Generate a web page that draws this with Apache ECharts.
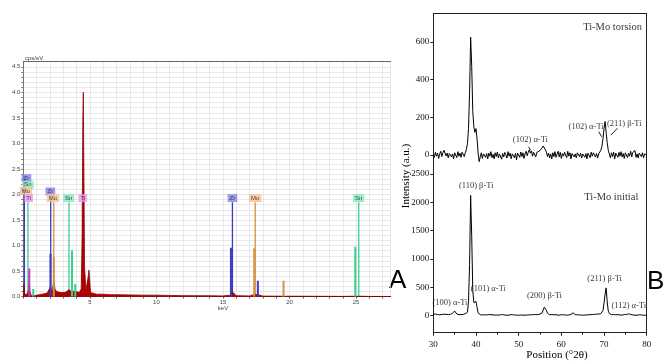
<!DOCTYPE html>
<html>
<head>
<meta charset="utf-8">
<script src="https://cdn.jsdelivr.net/npm/echarts@6/dist/echarts.min.js"></script>
<style>
  html, body { margin: 0; padding: 0; background: #fff; }
  #chart { width: 667px; height: 362px; }
</style>
</head>
<body>
<div id="chart"></div>
<script>
// ---- Panel A: EDS spectrum (keV, cps/eV) ----
const edsSpectrum = [
  [0, 0], [0.05, 0.25], [0.1, 0.05], [0.2, 0.02], [0.3, 0.05], [0.4, 0.15], [0.45, 0.3], [0.5, 0.1],
  [0.6, 0.02], [0.8, 0.02], [1.0, 0.03], [1.2, 0.04], [1.4, 0.05], [1.6, 0.06], [1.8, 0.07],
  [1.95, 0.1], [2.04, 0.2], [2.12, 0.1], [2.2, 0.15], [2.29, 0.32], [2.38, 0.15], [2.5, 0.1],
  [2.8, 0.08], [3.0, 0.08], [3.2, 0.09], [3.35, 0.1], [3.44, 0.14], [3.52, 0.1], [3.6, 0.12],
  [3.66, 0.15], [3.75, 0.1], [3.9, 0.12], [4.0, 0.1], [4.2, 0.08], [4.35, 0.15], [4.42, 1.2],
  [4.47, 3.45], [4.51, 4.0], [4.55, 2.5], [4.6, 0.6], [4.7, 0.12], [4.8, 0.15], [4.88, 0.4],
  [4.93, 0.52], [4.98, 0.35], [5.05, 0.08], [5.2, 0.06], [5.5, 0.05], [6, 0.05], [6.5, 0.04],
  [7, 0.04], [8, 0.035], [9, 0.03], [10, 0.03], [11, 0.025], [12, 0.02], [13, 0.02], [14, 0.018],
  [15, 0.015], [15.6, 0.03], [15.75, 0.08], [16, 0.02], [17, 0.015], [17.45, 0.05], [17.6, 0.015],
  [18, 0.012], [19, 0.01], [20, 0.01], [22, 0.008], [24, 0.006], [25, 0.01], [26, 0.005], [27.6, 0.004]
];

// element peak sticks
const edsPeakE  = [0.45, 0.75, 2.04, 2.29, 3.66, 3.9, 15.6, 17.35, 17.62, 19.55, 24.94];
const edsPeakH  = [0.55, 0.15, 0.84, 0.77, 0.91, 0.25, 0.96, 0.95, 0.31, 0.31, 0.98];
const edsPeakEl = ['Ti', 'Sn', 'Zr', 'Mo', 'Sn', 'Sn', 'Zr', 'Mo', 'Zr', 'Mo', 'Sn'];

// element marker lines
const edsMarkE  = [0.08, 0.35, 2.06, 2.29, 3.43, 4.51, 15.71, 17.42, 25.2];
const edsMarkH  = [2.35, 1.85, 2.0, 1.85, 1.85, 1.85, 1.85, 1.85, 1.85];
const edsMarkEl = ['Zr', 'Sn', 'Zr', 'Mo', 'Sn', 'Ti', 'Zr', 'Mo', 'Sn'];

// element tags
const edsTagE  = [0.24, 0.35, 0.2, 0.4, 2.03, 2.23, 3.41, 4.47, 15.71, 17.42, 25.19];
const edsTagV  = [2.32, 2.19, 2.07, 1.93, 2.06, 1.93, 1.93, 1.93, 1.93, 1.93, 1.93];
const edsTagEl = ['Zr', 'Sn', 'Mo', 'Ti', 'Zr', 'Mo', 'Sn', 'Ti', 'Zr', 'Mo', 'Sn'];

// ---- Panel B: XRD patterns, 30..80 deg 2theta every 0.25 ----
const xrdStart = 30;
const xrdStep = 0.25;
const xrdTorsion = [
  8, -12, 15, -6,   10, -18, 5, 20,   -8, 12, 25, 18,   -5, 10, -15, 8,   14, -10, 6, -20,
  12, 2, -14, 18,   -6, 10, -12, 15,  20, -8, 12, 30,   60, 140, 330, 625, 470, 230, 150, 120,
  140, 85, 10, -35, -10, 12, -18, 6,  15, -12, 8, -20,  10, -6, 18, -14,  4, -20, 12, -8,
  16, -15, 6, 10,   -22, 8, -10, 14,  2, -16, 18, -6,   10, -20, 6, 12,   -14, 8, -25, 10,
  4, -12, 16, -8,   12, -18, 6, 20,   -4, 15, 28, 10,   22, -6, 15, 8,    -10, 14, 5, 20,
  12, 30, 38, 48,   42, 28, 15, -8,   10, -15, 6, -20,  12, -8, 18, -12,  5, 20, -10, 14,
  -18, 8, -6, 15,   10, -14, 20, -6,  12, -20, 8, 16,   -10, 6, -15, 12,  18, -8, 10, -16,
  6, 14, -12, 8,    -20, 10, 4, -14,  15, -6, 12, 20,   -10, 8, -16, 6,   14, 25, 45, 85,
  140, 178, 120, 65, 25, 5, -15, 12,  -8, 16, -20, 10,  6, -12, 14, -6,   18, -10, 8, -18,
  12, 4, -14, 10,   -6, 20, -10, 15,  8, 24, -12, 6,    -16, 10, 14, -8,  12, -14, 6, 10,
  2
];
const xrdInitial = [
  25, 18, 30, 22,   20, 28, 15, 24,   22, 16, 26, 18,   24, 14, 20, 28,   22, 30, 45, 75,
  82, 55, 30, 22,   18, 26, 20, 30,   22, 28, 35, 40,   60, 250, 900, 2120, 1400, 450, 230, 210,
  250, 150, 50, 25, 18, 24, 12, 20,   16, 22, 14, 18,   20, 12, 18, 10,   15, 20, 8, 16,
  12, 18, 10, 14,   20, 8, 15, 12,    10, 18, 6, 14,    16, 10, 18, 8,    12, 20, 10, 14,
  8, 16, 12, 18,    10, 14, 8, 16,    12, 18, 14, 10,   16, 12, 20, 15,   18, 22, 20, 26,
  28, 35, 50, 80,   150, 172, 95, 45, 25, 18, 14, 20,   12, 16, 10, 18,   14, 8, 16, 12,
  10, 18, 12, 14,   16, 10, 14, 12,   18, 24, 35, 50,   32, 18, 12, 15,   10, 16, 12, 8,
  14, 10, 18, 12,   8, 15, 12, 18,    14, 20, 16, 24,   20, 26, 22, 30,   28, 35, 50, 90,
  220, 380, 490, 240, 80, 40, 25, 18, 14, 20, 12, 16,   10, 18, 14, 12,   16, 10, 14, 20,
  15, 22, 28, 32,   30, 22, 15, 12,   18, 10, 14, 8,    12, 16, 6, 14,    10, 8, 14, 6,
  10
];
const torsionTicks = [0, 200, 400, 600];
const initialTicks = [0, 500, 1000, 1500, 2000, 2500];

// peak notes (anchored in data units)
const torsionNoteX = [72.0, 52.75, 65.8, 74.75];
const torsionNoteY = [680, 83, 150, 168];
const torsionNoteText = ['Ti-Mo torsion', '(102) α-Ti', '(102) α-Ti', '(211) β-Ti'];
const torsionArrows = [[52.3, 44, 52.8, 26], [68.75, 124, 69.45, 97], [73.15, 142, 71.6, 106]];

const initialNoteX = [40.05, 71.7, 42.9, 33.9, 56.05, 70.15, 75.8];
const initialNoteY = [2283, 2083, 473, 225, 349, 655, 177];
const initialNoteText = ['(110) β-Ti', 'Ti-Mo initial', '(101) α-Ti', '(100) α-Ti', '(200) β-Ti', '(211) β-Ti', '(112) α-Ti'];

const elColors = {
  Zr: { line: '#3a3ac6', tag: '#8484ee' },
  Mo: { line: '#d4923c', tag: '#f4c28e' },
  Sn: { line: '#3ccf90', tag: '#86e8bc' },
  Ti: { line: '#c03cc0', tag: '#f294f0' }
};

const serif = '"Liberation Serif", "DejaVu Serif", serif';
const sans = '"Liberation Sans", "DejaVu Sans", sans-serif';
const clear = 'rgba(0,0,0,0)';

const chart = echarts.init(document.getElementById('chart'), null, { renderer: 'canvas' });

const stickRender = (els, width) => (params, api) => {
  const p0 = api.coord([api.value(0), 0]);
  const p1 = api.coord([api.value(0), api.value(1)]);
  return {
    type: 'line',
    shape: { x1: p0[0], y1: p0[1], x2: p1[0], y2: p1[1] },
    style: { stroke: elColors[els[params.dataIndex]].line, lineWidth: width }
  };
};

const xrdPairs = arr => arr.map((v, i) => [xrdStart + i * xrdStep, v]);

const frameAxis = (gridIndex, position, min, max) => ({
  gridIndex, type: 'value', position, min, max,
  axisLine: { show: true, onZero: false, lineStyle: { color: '#222', width: 1 } },
  axisTick: { show: false }, axisLabel: { show: false }, splitLine: { show: false }
});

const xrdYAxis = (gridIndex, min, max, ticks) => ({
  gridIndex, type: 'value', min, max,
  axisLine: { show: true, onZero: false, lineStyle: { color: '#222', width: 1 } },
  axisTick: { show: true, length: 3, customValues: ticks, lineStyle: { color: '#222' } },
  axisLabel: { fontFamily: serif, fontSize: 9, color: '#111', margin: 4, customValues: ticks, formatter: v => String(v) },
  splitLine: { show: false }
});

const noteSeries = (name, xi, yi, xs, ys, texts, bigIndex) => ({
  name, type: 'scatter', xAxisIndex: xi, yAxisIndex: yi, z: 6,
  symbolSize: 1, itemStyle: { color: clear }, silent: true,
  data: xs.map((x, i) => ({
    value: [x, ys[i]],
    label: i === bigIndex ? { fontSize: 10.5 } : {}
  })),
  label: {
    show: true, position: 'inside', fontFamily: serif, color: '#000',
    fontSize: 8.5, formatter: p => texts[p.dataIndex]
  }
});

const option = {
  animation: false,
  backgroundColor: '#fff',
  grid: [
    { left: 23.3, top: 61.7, width: 367.4, height: 235 },
    { left: 433.3, top: 13.6, width: 213.4, height: 160.3 },
    { left: 433.3, top: 173.9, width: 213.4, height: 158.8 }
  ],
  xAxis: [
    {
      gridIndex: 0, type: 'value', min: 0, max: 27.6, interval: 1,
      axisLine: { onZero: false, lineStyle: { color: '#333', width: 1 } },
      axisTick: { show: true, length: 2, lineStyle: { color: '#666' } },
      axisLabel: {
        fontFamily: sans, fontSize: 6, color: '#444', margin: 3, showMaxLabel: false,
        formatter: v => (v > 0 && v % 5 === 0 ? String(v) : '')
      },
      splitLine: { show: true, lineStyle: { color: '#dadada', width: 0.6 } }
    },
    Object.assign(frameAxis(0, 'top', 0, 27.6), { axisLine: { show: true, onZero: false, lineStyle: { color: '#666', width: 1 } } }),
    frameAxis(1, 'top', 30, 80),
    {
      gridIndex: 2, type: 'value', min: 30, max: 80, interval: 10,
      axisLine: { show: true, onZero: false, lineStyle: { color: '#222', width: 1 } },
      axisTick: { show: true, length: 3, lineStyle: { color: '#222' } },
      minorTick: { show: true, splitNumber: 2, length: 2, lineStyle: { color: '#222' } },
      axisLabel: { fontFamily: serif, fontSize: 9, color: '#111', margin: 7 },
      splitLine: { show: false }
    }
  ],
  yAxis: [
    {
      gridIndex: 0, type: 'value', min: 0, max: 4.6, interval: 0.1,
      axisLine: { show: true, onZero: false, lineStyle: { color: '#777', width: 1 } },
      axisTick: { show: true, length: 2, lineStyle: { color: '#777' } },
      axisLabel: {
        fontFamily: sans, fontSize: 6, color: '#444', margin: 3, showMaxLabel: false,
        formatter: v => (Math.round(v * 10) % 5 === 0 ? v.toFixed(1) : '')
      },
      splitLine: { show: true, lineStyle: { color: '#dadada', width: 0.6 } }
    },
    xrdYAxis(1, -100, 750, torsionTicks),
    frameAxis(1, 'right', -100, 750),
    xrdYAxis(2, -300, 2500, initialTicks),
    frameAxis(2, 'right', -300, 2500)
  ],
  series: [
    {
      name: 'markers', type: 'custom', xAxisIndex: 0, yAxisIndex: 0, z: 2, clip: true,
      data: edsMarkE.map((e, i) => [e, edsMarkH[i]]),
      renderItem: stickRender(edsMarkEl, 1.3)
    },
    {
      name: 'spectrum', type: 'line', xAxisIndex: 0, yAxisIndex: 0, z: 3,
      data: edsSpectrum, symbol: 'none',
      lineStyle: { color: '#8a0000', width: 0.8 },
      areaStyle: { color: '#b00000', opacity: 1 }
    },
    {
      name: 'peaks', type: 'custom', xAxisIndex: 0, yAxisIndex: 0, z: 4, clip: true,
      data: edsPeakE.map((e, i) => [e, edsPeakH[i]]),
      renderItem: stickRender(edsPeakEl, 2)
    },
    {
      name: 'tags', type: 'scatter', xAxisIndex: 0, yAxisIndex: 0, z: 5,
      symbolSize: 1, itemStyle: { color: clear }, silent: true,
      data: edsTagE.map((e, i) => ({
        value: [e, edsTagV[i]],
        label: { backgroundColor: elColors[edsTagEl[i]].tag }
      })),
      label: {
        show: true, position: 'inside', fontFamily: sans, fontSize: 6, color: '#222',
        padding: [1, 2, 0, 2], lineHeight: 7,
        formatter: p => edsTagEl[p.dataIndex]
      }
    },
    {
      name: 'Ti-Mo torsion', type: 'line', xAxisIndex: 2, yAxisIndex: 1,
      data: xrdPairs(xrdTorsion), symbol: 'none',
      lineStyle: { color: '#000', width: 1 }
    },
    {
      name: 'Ti-Mo initial', type: 'line', xAxisIndex: 3, yAxisIndex: 3,
      data: xrdPairs(xrdInitial), symbol: 'none',
      lineStyle: { color: '#000', width: 1 }
    },
    noteSeries('torsion notes', 2, 1, torsionNoteX, torsionNoteY, torsionNoteText, 0),
    {
      name: 'arrows', type: 'custom', xAxisIndex: 2, yAxisIndex: 1,
      data: torsionArrows,
      renderItem: (params, api) => {
        const a = api.coord([api.value(0), api.value(1)]);
        const b = api.coord([api.value(2), api.value(3)]);
        return { type: 'line', shape: { x1: a[0], y1: a[1], x2: b[0], y2: b[1] },
                 style: { stroke: '#000', lineWidth: 0.9 } };
      }
    },
    noteSeries('initial notes', 3, 3, initialNoteX, initialNoteY, initialNoteText, 1)
  ],
  graphic: [
    { type: 'text', x: 25, y: 58.5, style: { text: 'cps/eV', fontFamily: sans, fontSize: 6, fill: '#444', verticalAlign: 'middle' } },
    { type: 'text', x: 223, y: 308, style: { text: 'keV', fontFamily: sans, fontSize: 6, fill: '#444', align: 'center', verticalAlign: 'middle' } },
    { type: 'text', x: 406, y: 176, rotation: Math.PI / 2, style: { text: 'Intensity (a.u.)', fontFamily: serif, fontSize: 11, fill: '#000', align: 'center', verticalAlign: 'middle' } },
    { type: 'text', x: 557, y: 355, style: { text: 'Position (°2θ)', fontFamily: serif, fontSize: 11, fill: '#000', align: 'center', verticalAlign: 'middle' } },
    { type: 'text', x: 389, y: 281, style: { text: 'A', fontFamily: sans, fontSize: 26, fill: '#000', verticalAlign: 'middle' } },
    { type: 'text', x: 647, y: 282, style: { text: 'B', fontFamily: sans, fontSize: 26, fill: '#000', verticalAlign: 'middle' } }
  ]
};

chart.setOption(option);
window.addEventListener('resize', () => chart.resize());
</script>
</body>
</html>
